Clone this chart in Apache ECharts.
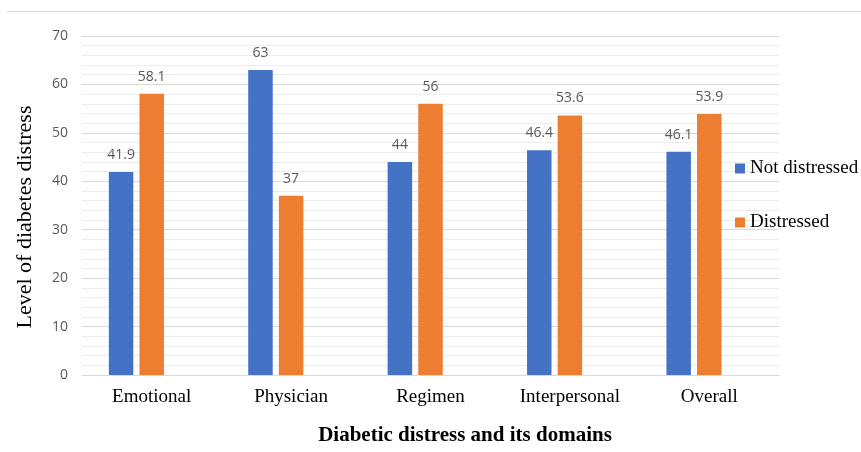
<!DOCTYPE html>
<html>
<head>
<meta charset="utf-8">
<script src="https://cdn.jsdelivr.net/npm/echarts@6/dist/echarts.min.js"></script>
<style>
  html, body { margin: 0; padding: 0; background: #fff; }
  #chart { width: 861px; height: 452px; }
</style>
</head>
<body>
<div id="chart"></div>
<script>
// Diabetic distress domains, mean level per group
const categories = ['Emotional', 'Physician', 'Regimen', 'Interpersonal', 'Overall'];
const notDistressed = [41.9, 63, 44, 46.4, 46.1];
const distressed = [58.1, 37, 56, 53.6, 53.9];
// third slot of each cluster is left empty
const emptySlot = [null, null, null, null, null];
const seriesNames = ['Not distressed', 'Distressed'];
const yTicks = { min: 0, max: 70, interval: 10 };

const serif = 'Liberation Serif, Times New Roman, serif';
const sans = 'Open Sans, Liberation Sans, sans-serif';

const labelStyle = {
  show: true,
  position: 'top',
  distance: 10,
  color: '#595959',
  fontFamily: sans,
  fontSize: 14
};

const chart = echarts.init(document.getElementById('chart'), null, { renderer: 'canvas' });

chart.setOption({
  animation: false,
  backgroundColor: '#ffffff',
  grid: { left: 82, right: 82, top: 36, bottom: 77, containLabel: false },
  legend: {
    data: seriesNames,
    orient: 'vertical',
    left: 735,
    top: 159,
    padding: 0,
    itemWidth: 10,
    itemHeight: 10,
    itemGap: 35,
    icon: 'rect',
    textStyle: { fontFamily: serif, fontSize: 19, color: '#000', lineHeight: 19 }
  },
  xAxis: {
    type: 'category',
    data: categories,
    axisLine: { show: true, lineStyle: { color: '#d9d9d9', width: 1 } },
    axisTick: { show: false },
    axisLabel: { color: '#000', fontFamily: serif, fontSize: 19, margin: 13 }
  },
  yAxis: {
    type: 'value',
    min: yTicks.min,
    max: yTicks.max,
    interval: yTicks.interval,
    axisLine: { show: false },
    axisTick: { show: false },
    axisLabel: { color: '#595959', fontFamily: sans, fontSize: 14, margin: 14 },
    splitLine: { show: true, lineStyle: { color: '#d9d9d9', width: 1 } },
    minorTick: { show: false, splitNumber: 5 },
    minorSplitLine: { show: true, lineStyle: { color: '#ececec', width: 1 } }
  },
  series: [
    {
      name: seriesNames[0],
      type: 'bar',
      data: notDistressed,
      barWidth: 24.5,
      barGap: '25%',
      itemStyle: { color: '#4472C4' },
      label: labelStyle
    },
    {
      name: seriesNames[1],
      type: 'bar',
      data: distressed,
      barWidth: 24.5,
      barGap: '25%',
      itemStyle: { color: '#ED7D31' },
      label: labelStyle
    },
    {
      name: '',
      type: 'bar',
      data: emptySlot,
      barWidth: 24.5,
      barGap: '25%',
      itemStyle: { color: '#A5A5A5' }
    }
  ],
  graphic: [
    {
      type: 'line',
      shape: { x1: 7, y1: 11.5, x2: 861, y2: 11.5 },
      style: { stroke: '#d9d9d9', lineWidth: 1 },
      silent: true
    },
    {
      type: 'text',
      x: 465,
      y: 436,
      style: {
        text: 'Diabetic distress and its domains',
        fontFamily: serif,
        fontSize: 21,
        fontWeight: 'bold',
        fill: '#000',
        align: 'center',
        verticalAlign: 'middle'
      }
    },
    {
      type: 'text',
      x: 25,
      y: 217,
      rotation: Math.PI / 2,
      style: {
        text: 'Level of diabetes distress',
        fontFamily: serif,
        fontSize: 22,
        fill: '#000',
        align: 'center',
        verticalAlign: 'middle'
      }
    }
  ]
});
</script>
</body>
</html>
